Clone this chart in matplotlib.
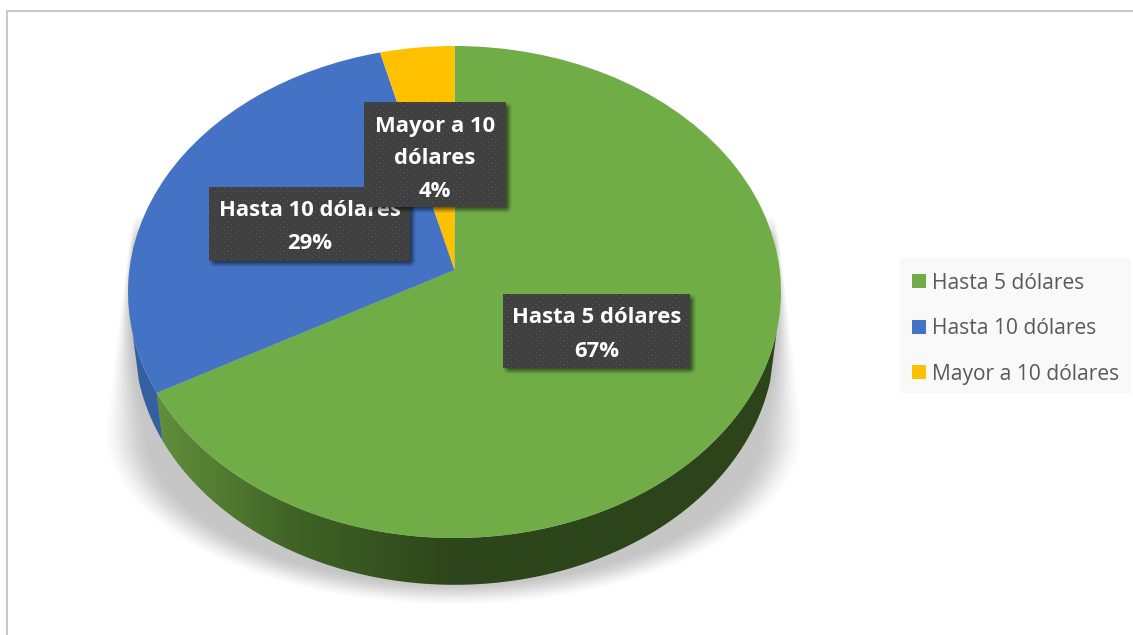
import numpy as np
import matplotlib
matplotlib.use("Agg")
import matplotlib.pyplot as plt
from matplotlib.transforms import Transform
from matplotlib.patches import Rectangle, Polygon
from matplotlib.colors import to_rgb

categories = ["Hasta 5 dólares", "Hasta 10 dólares", "Mayor a 10 dólares"]
values = [67, 29, 4]
colors = ["#70AD47", "#4472C4", "#FFC000"]
label_lines = ["Hasta 5 dólares\n67%", "Hasta 10 dólares\n29%", "Mayor a 10\ndólares\n4%"]

W, H = 1133, 635
FONT = "Open Sans"


def project(u, v, cx, cy, rx, ry, off=22.0):
    c = off / 246.0
    den = 1 + c * v
    return cx + rx * 0.996 * u / den, cy - (ry * v + off) / den


class Persp(Transform):
    input_dims = output_dims = 2
    has_inverse = False
    is_separable = False

    def transform_non_affine(self, values):
        values = np.asarray(values, float)
        x, y = project(values[:, 0], values[:, 1], 454.5, 292.0, 326.5, 246.0)
        return np.column_stack([x, y])


fig = plt.figure(figsize=(W / 100, H / 100), dpi=100, facecolor="white")
ax = fig.add_axes([0, 0, 1, 1])

# soft ground shadow
yy, xx = np.mgrid[190:620, 90:820]
xx = xx + 0.5
yy = yy + 0.5
X = (xx - 454) / 349.0
Y = np.clip(yy - 430, 0, None) / 175.0
r = np.sqrt(X ** 2 + Y ** 2)
a_low = np.clip((1 - r) / 0.12, 0, 1)
xl = 105 + (430 - yy) * 23 / 180
xr = 803 - (430 - yy) * 22 / 180
w = 6 + 36 * (np.clip(yy - 240, 0, 190) / 190) ** 2
a_up = np.clip(np.minimum(xx - xl, xr - xx) / w, 0, 1)
a = np.where(yy > 430, a_low, a_up)
a = 0.6 * a + 0.4 * a * a * (3 - 2 * a)
a = a * np.clip((yy - 215) / 30, 0, 1)
sh = np.zeros(a.shape + (4,))
sh[..., :3] = 0.78
sh[..., 3] = a
ax.imshow(sh, extent=(90, 820, 620, 190), aspect="auto", zorder=1, interpolation="bilinear")

# side wall
bounds = np.cumsum([0] + values) / sum(values) * 2 * np.pi
stops_x = [155, 220, 290, 450, 781]
stops_c = np.array([to_rgb(c) for c in ["#618F3B", "#527C31", "#406426", "#2D461B", "#2D441B"]])
for i in range(2):
    th = np.linspace(bounds[i], bounds[i + 1], 500)
    u, v = np.sin(th), np.cos(th)
    xt, yt = project(u, v, 454.5, 292.0, 326.5, 246.0)
    xb, yb = project(u, v, 454.5, 341.0, 320.0, 244.0)
    keep = yt > 332
    pts = np.vstack([np.column_stack([xt[keep], yt[keep]]),
                     np.column_stack([xb[keep], yb[keep]])[::-1]])
    if i == 0:
        gx = np.arange(150, 790)
        grad = np.stack([np.interp(gx, stops_x, stops_c[:, k]) for k in range(3)], axis=-1)[None, :, :]
        clip = Polygon(pts, closed=True, facecolor="none", edgecolor="none", transform=ax.transData)
        ax.add_patch(clip)
        im = ax.imshow(grad, extent=(150, 790, 600, 300), aspect="auto", zorder=2, interpolation="bilinear")
        im.set_clip_path(clip)
    else:
        ax.add_patch(Polygon(pts, closed=True, facecolor="#35609F", edgecolor="none", zorder=2))

# top face
wedges = ax.pie(values, colors=colors, startangle=90, counterclock=False, radius=1,
                wedgeprops={"linewidth": 0})[0]
persp = Persp()
for wd in wedges:
    wd.set_transform(persp + ax.transData)
    wd.set_zorder(3)
    wd.set_clip_on(False)


def label_box(x0, x1, y0, y1, text, text_y, z):
    # blurred drop shadow
    m = 10
    ys, xs = np.mgrid[int(y0 - m):int(y1 + m + 5), int(x0 - m):int(x1 + m + 5)]
    ox, oy = 3.0, 3.0
    blur = 6.0
    ax_ = np.clip((xs + .5 - (x0 + ox) + blur / 2) / blur, 0, 1) * np.clip(((x1 + ox) - xs - .5 + blur / 2) / blur, 0, 1)
    ay_ = np.clip((ys + .5 - (y0 + oy) + blur / 2) / blur, 0, 1) * np.clip(((y1 + oy) - ys - .5 + blur / 2) / blur, 0, 1)
    s = np.zeros(xs.shape + (4,))
    s[..., 3] = 0.55 * ax_ * ay_
    ax.imshow(s, extent=(x0 - m, x1 + m + 5, y1 + m + 5, y0 - m), aspect="auto", zorder=z, interpolation="bilinear")
    # dotted fill
    nx, ny = int(x1 - x0), int(y1 - y0)
    arr = np.full((ny, nx, 3), to_rgb("#404040"))
    for row in range(ny):
        if row % 3 == 1:
            shift = 3 if (row // 3) % 2 else 0
            arr[row, (np.arange(nx) + shift) % 7 == 1] = to_rgb("#585858")
    ax.imshow(arr, extent=(x0, x1, y1, y0), aspect="auto", zorder=z + 0.1, interpolation="nearest")
    for line, ty in zip(text.split("\n"), text_y):
        ax.text((x0 + x1) / 2, ty, line, color="white", fontsize=15.8, fontweight="bold", family=FONT,
                ha="center", va="baseline", zorder=z + 0.2)


label_box(503, 690, 294, 368, label_lines[0], [323, 357], 4)
label_box(209, 410, 187, 261, label_lines[1], [216, 249], 5)
label_box(364, 506, 102, 207, label_lines[2], [132, 164, 197], 6)

# chart frame
ax.add_patch(Rectangle((6, 10), 2, H, facecolor="#C8C8C8", edgecolor="none", zorder=0))
ax.add_patch(Rectangle((6, 10), W, 1.5, facecolor="#C8C8C8", edgecolor="none", zorder=0))

# legend
ax.add_patch(Rectangle((900, 258), 231, 135, facecolor="#F9F9F9", edgecolor="none", zorder=9))
fs = 15.1
leg = ax.legend(wedges, categories, loc="upper left", bbox_to_anchor=(899 / W, 1 - 260 / H),
                borderaxespad=0, frameon=False, labelcolor="#595959", handlelength=0.667, handleheight=0.667,
                handletextpad=0.29, labelspacing=1.17, borderpad=0.6, prop={"family": FONT, "size": fs})
leg.set_zorder(10)

ax.set_xlim(0, W)
ax.set_ylim(H, 0)
ax.set_aspect("auto")
ax.axis("off")
fig.savefig("out.png", dpi=100, facecolor="white")
